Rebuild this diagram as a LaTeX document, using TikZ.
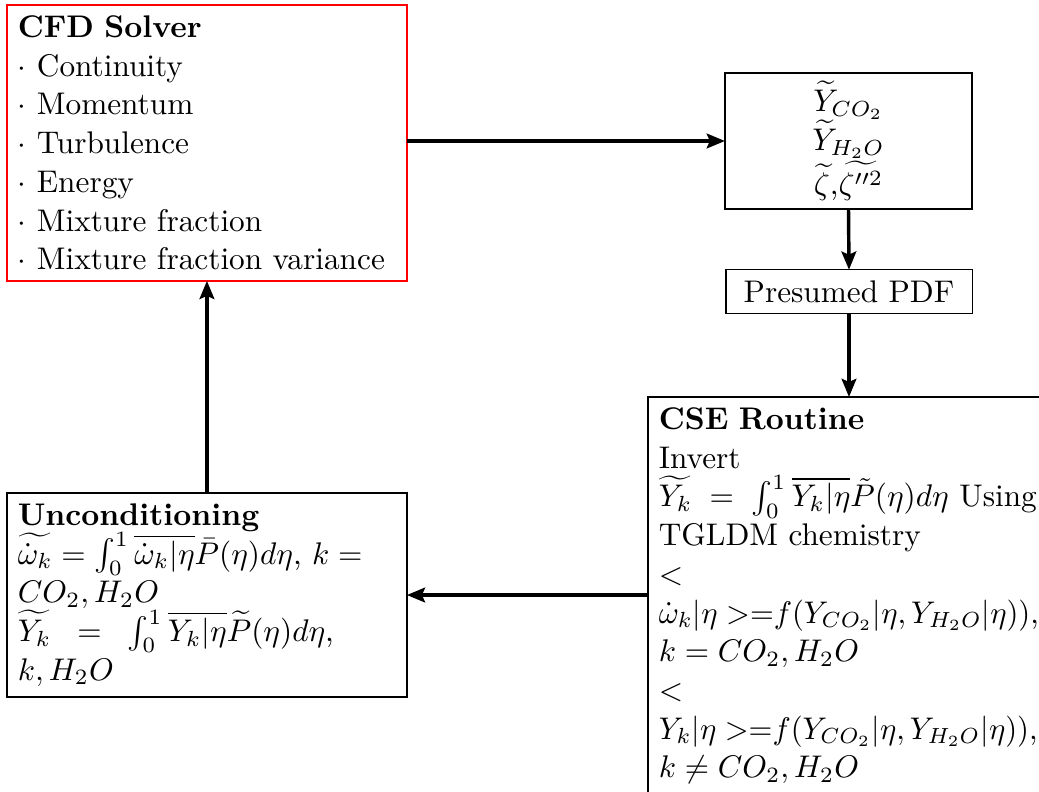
\documentclass[tikz,border=0pt]{standalone}
\usepackage{amsmath}
\usetikzlibrary{arrows.meta}
\begin{document}
\begin{tikzpicture}[x=0.3196pt,y=-0.3196pt,
  every node/.style={font=\fontsize{10pt}{12.37pt}\selectfont},
  box/.style={draw, line width=0.4pt, inner sep=3.43pt, outer sep=0pt},
  lbox/.style={box, anchor=north west, text width=120.9pt, align=left, minimum width=127.8pt},
  arr/.style={line width=1.1pt, -{Stealth[length=5.8pt,width=4.7pt,inset=1pt]}}]
\useasboundingbox (0,0) rectangle (1039,792);
\clip (0,0) rectangle (1039,792);
\node[lbox, draw=red, line width=0.6pt] (cfd) at (7,5)
  {\textbf{CFD Solver}\\
   $\cdot$ Continuity\\
   $\cdot$ Momentum\\
   $\cdot$ Turbulence\\
   $\cdot$ Energy\\
   $\cdot$ Mixture fraction\\
   $\cdot$ Mixture fraction variance};
\node[box, minimum width=79pt, minimum height=43.5pt, align=center, inner sep=1pt] (top) at (848.5,141)
  {$\widetilde{Y}_{CO_2}$\\ $\widetilde{Y}_{H_2O}$\\ $\widetilde{\zeta}$,$\widetilde{\zeta''^2}$};
\node[box, minimum width=78.7pt, minimum height=13.7pt] (pdf) at (849,291.5) {Presumed PDF};
\node[lbox] (cse) at (648,397)
  {\textbf{CSE Routine}\\
   Invert\\
   \mbox{$\widetilde{Y_k} \;=\; \int_0^1 \overline{Y_k|\eta}\tilde{P}(\eta)d\eta$ Using}\\
   TGLDM chemistry\\
   $<$\\
   \scalebox{0.978}[1]{$\dot{\omega}_k|\eta >$=$f(Y_{CO_2}|\eta, Y_{H_2O}|\eta))$,}\\
   $k = CO_2, H_2O$\\
   $<$\\
   \scalebox{0.978}[1]{$Y_k|\eta >$=$f(Y_{CO_2}|\eta, Y_{H_2O}|\eta))$,}\\
   $k \neq CO_2, H_2O$\\[2pt]\strut};
\node[lbox, minimum height=64.8pt] (unc) at (7,493)
  {\textbf{Unconditioning}\\
   \mbox{$\widetilde{\dot{\omega}_k} = \int_0^1 \overline{\dot{\omega}_k|\eta}\bar{P}(\eta)d\eta$, $k =$}\\
   $CO_2, H_2O$\\
   \mbox{$\widetilde{Y_k} \;\;=\;\; \int_0^1 \overline{Y_k|\eta}\widetilde{P}(\eta)d\eta$,}\\
   $k, H_2O$};
\draw[arr] (cfd.east |- top.west) -- (top.west);
\draw[arr] (top.south) -- (pdf.north);
\draw[arr] (pdf.south) -- (pdf.south |- cse.north);
\draw[arr] (cse.west |- unc.east) -- (unc.east);
\draw[arr] (unc.north) -- (cfd.south);
\end{tikzpicture}
\end{document}
